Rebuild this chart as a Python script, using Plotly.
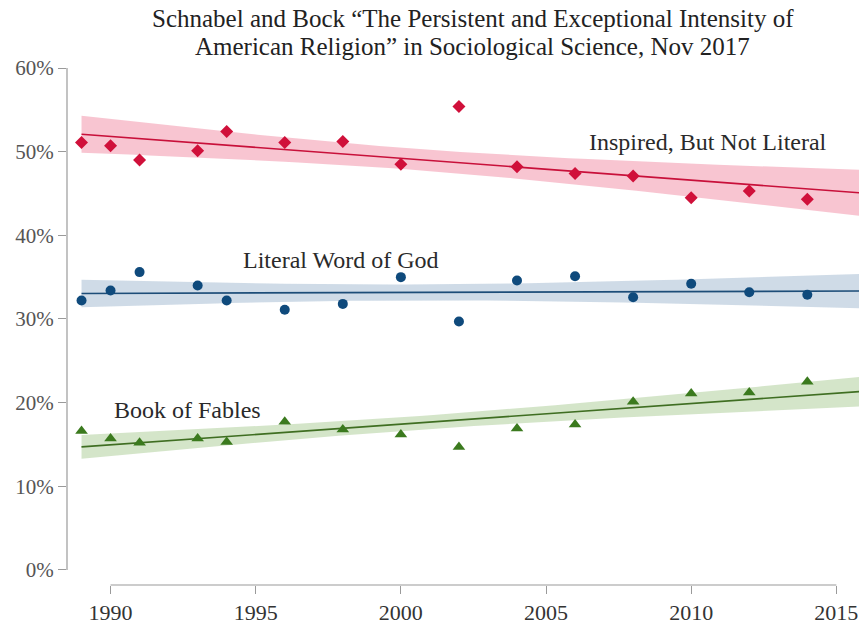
import plotly.graph_objects as go
import numpy as np

# Survey years (GSS waves)
YEARS = [1989, 1990, 1991, 1993, 1994, 1996, 1998, 2000, 2002, 2004, 2006, 2008, 2010, 2012, 2014]

# Share of Americans holding each view of the Bible (%)
INSPIRED = [51.1, 50.7, 49.0, 50.1, 52.4, 51.1, 51.2, 48.5, 55.4, 48.2, 47.4, 47.1, 44.5, 45.3, 44.3]
LITERAL = [32.2, 33.4, 35.6, 34.0, 32.2, 31.1, 31.8, 35.0, 29.7, 34.6, 35.1, 32.6, 34.2, 33.2, 32.9]
FABLES = [16.6, 15.7, 15.2, 15.7, 15.3, 17.7, 16.8, 16.2, 14.7, 16.9, 17.4, 20.1, 21.1, 21.2, 22.5]

Y_TICKS = [0, 10, 20, 30, 40, 50, 60]
Y_TICK_TEXT = ["0%", "10%", "20%", "30%", "40%", "50%", "60%"]
X_TICKS = [1990, 1995, 2000, 2005, 2010, 2015]

X_RANGE = [1988.5, 2015.78]
Y_RANGE = [-1.8, 60]

TITLE_LINES = [
    "Schnabel and Bock \u201cThe Persistent and Exceptional Intensity of",
    "American Religion\u201d in Sociological Science, Nov 2017",
]

T_95 = 2.1604  # t critical value, 13 d.f.

SERIES = [
    dict(name="Inspired, But Not Literal", y=INSPIRED, symbol="diamond", size=10,
         marker="#d0103a", line="#c8103a", band="rgba(242,150,172,0.55)"),
    dict(name="Literal Word of God", y=LITERAL, symbol="circle", size=10,
         marker="#0f4a7c", line="#1d4d78", band="rgba(168,190,212,0.55)"),
    dict(name="Book of Fables", y=FABLES, symbol="triangle-up", size=11,
         marker="#3b7a1e", line="#3f6e22", band="rgba(176,208,156,0.55)"),
]

LABELS = [
    ("Inspired, But Not Literal", 2010.57, 51.1),
    ("Literal Word of God", 1997.95, 37.05),
    ("Book of Fables", 1992.65, 19.1),
]

FONT = "Liberation Serif, Times New Roman, serif"


def linear_fit_ci(x, y, grid):
    """OLS fit with 95% confidence band for the mean, like Stata's lfitci."""
    x = np.asarray(x, float)
    y = np.asarray(y, float)
    b, a = np.polyfit(x, y, 1)
    resid = y - (a + b * x)
    n = len(x)
    s = np.sqrt(np.sum(resid ** 2) / (n - 2))
    sxx = np.sum((x - x.mean()) ** 2)
    fit = a + b * grid
    se = s * np.sqrt(1.0 / n + (grid - x.mean()) ** 2 / sxx)
    return fit, fit - T_95 * se, fit + T_95 * se


grid = np.linspace(YEARS[0], 2016.5, 60)

fig = go.Figure()

for s in SERIES:
    fit, lo, hi = linear_fit_ci(YEARS, s["y"], grid)
    fig.add_trace(go.Scatter(
        x=np.concatenate([grid, grid[::-1]]),
        y=np.concatenate([hi, lo[::-1]]),
        fill="toself", fillcolor=s["band"], line=dict(width=0),
        mode="lines", hoverinfo="skip", showlegend=False
    ))
    fig.add_trace(go.Scatter(
        x=grid, y=fit, mode="lines",
        line=dict(color=s["line"], width=1.6),
        hoverinfo="skip", showlegend=False
    ))

for s in SERIES:
    fig.add_trace(go.Scatter(
        x=YEARS, y=s["y"], mode="markers", name=s["name"],
        marker=dict(symbol=s["symbol"], size=s["size"], color=s["marker"]),
        showlegend=False
    ))

for text, x, y in LABELS:
    fig.add_annotation(x=x, y=y, text=text, showarrow=False,
                       font=dict(family=FONT, size=24, color="#2a2a2a"))

# title, two centred lines above the plot
for i, line in enumerate(TITLE_LINES):
    fig.add_annotation(
        xref="paper", yref="paper", x=0.5126, y=1.0967 - i * 0.0542,
        xanchor="center", yanchor="middle", text=line, showarrow=False,
        font=dict(family=FONT, size=25, color="#222222")
    )

# Stata-style offset axis lines
fig.add_shape(type="line", xref="paper", yref="y", x0=0, x1=0,
              y0=Y_TICKS[0], y1=Y_TICKS[-1], line=dict(color="#9a9a9a", width=1.2))
fig.add_shape(type="line", xref="x", yref="paper", x0=X_TICKS[0], x1=X_TICKS[-1],
              y0=0, y1=0, line=dict(color="#9a9a9a", width=1.2))

fig.update_layout(
    width=859, height=624,
    margin=dict(l=67, r=0, t=68, b=39, autoexpand=False),
    paper_bgcolor="white", plot_bgcolor="white",
    font=dict(family=FONT, color="#333333"),
    showlegend=False
)

fig.update_xaxes(
    range=X_RANGE, tickvals=X_TICKS, ticks="outside", ticklen=8,
    tickcolor="#9a9a9a", showline=False, showgrid=False, zeroline=False,
    tickfont=dict(family=FONT, size=22, color="#333333")
)
fig.update_yaxes(
    range=Y_RANGE, tickvals=Y_TICKS, ticktext=Y_TICK_TEXT, ticks="outside", ticklen=8,
    tickcolor="#9a9a9a", showline=False, showgrid=False, zeroline=False,
    tickfont=dict(family=FONT, size=21, color="#555555")
)

fig.write_html("out.html", config={"displayModeBar": False},
               post_script="document.body.style.margin='0';")
